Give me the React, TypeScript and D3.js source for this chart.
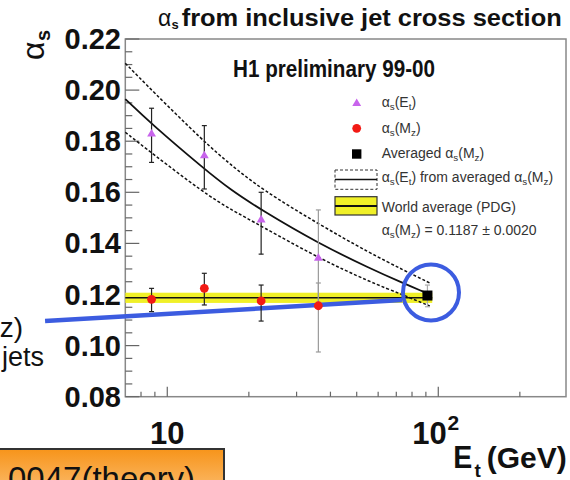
import React from "react";
import * as d3 from "d3";

// ---------- data ----------
const triE = [8.75, 13.7, 22.2, 36.1];
const triVal = [0.1828, 0.1743, 0.1492, 0.1342];
const triHi = [0.1929, 0.1861, 0.16, 0.1531];
const triLo = [0.1717, 0.1613, 0.1358, 0.1155];

const circVal = [0.1181, 0.1224, 0.1175, 0.1156];
const circHi = [0.1224, 0.1283, 0.1237, 0.1245];
const circLo = [0.1133, 0.1159, 0.1096, 0.0975];

const avgE = 91.2;
const avgVal = 0.1196;
const avgHi = 0.1237;
const avgLo = 0.1152;

const worldAvg = 0.1187;
const worldErr = 0.002;
const bandE = [7, 95];

const curveE = [7, 8.75, 13.7, 17, 22.2, 36.1, 56, 74.3, 88];
const curveMid = [0.1965, 0.1867, 0.1691, 0.1612, 0.1531, 0.14, 0.1302, 0.1244, 0.1211];
const dashE = [7, 8.75, 13.7, 17, 22.2, 36.1, 56, 74.3, 93];
const curveUp = [0.2105, 0.2, 0.1797, 0.1711, 0.1613, 0.1476, 0.1362, 0.1296, 0.1245];
const curveLow = [0.1835, 0.1754, 0.1597, 0.1535, 0.1468, 0.1343, 0.1249, 0.1198, 0.1155];

const yTickLabels = ["0.08", "0.10", "0.12", "0.14", "0.16", "0.18", "0.20", "0.22"];
const xMajor = [10, 100];

// annotation (data coordinates)
const blueLineE = [3.54, 73.5];
const blueLineV = [0.1096, 0.1178];
const blueCircleE = 94;
const blueCircleV = 0.1208;

const FONT = "'Liberation Sans', Arial, Helvetica, sans-serif";

export default function App() {
  const x = d3.scaleLog().domain([7, 296]).range([125.3, 566]);
  const y = d3.scaleLinear().domain([0.08, 0.22]).range([396.7, 39]);
  const [x0, x1] = x.range();
  const [yb, yt] = y.range();

  const yMinor = d3.range(0, 29).map((i) => +(0.08 + i * 0.005).toFixed(3));
  const xMinor = x.ticks().filter((t) => t > 7.01 && t < 296 && !xMajor.includes(t));

  const lineGen = d3
    .line<[number, number]>()
    .x((d) => x(d[0]))
    .y((d) => y(d[1]))
    .curve(d3.curveBasis);

  const mid = lineGen(curveE.map((e, i) => [e, curveMid[i]]))!;
  const up = lineGen(dashE.map((e, i) => [e, curveUp[i]]))!;
  const low = lineGen(dashE.map((e, i) => [e, curveLow[i]]))!;

  const tri = d3.symbol(d3.symbolTriangle, 34)()!;

  const errBar = (xe: number, hi: number, lo: number, color: string, key: string) => {
    const cx = x(xe);
    return (
      <g key={key} stroke={color} strokeWidth={1.2}>
        <line x1={cx} x2={cx} y1={y(hi)} y2={y(lo)} />
        <line x1={cx - 2.5} x2={cx + 2.5} y1={y(hi)} y2={y(hi)} />
        <line x1={cx - 2.5} x2={cx + 2.5} y1={y(lo)} y2={y(lo)} />
      </g>
    );
  };

  return (
    <svg
      width={570}
      height={480}
      style={{ position: "absolute", left: 0, top: 0, background: "#fff" }}
      fontFamily={FONT}
    >
      <defs>
        <linearGradient id="org" x1="0" y1="0" x2="0" y2="1">
          <stop offset="0" stopColor="#f7941a" />
          <stop offset="1" stopColor="#fcc27a" />
        </linearGradient>
      </defs>

      {/* title */}
      <text x={158} y={26} fontSize={23} fill="#111">
        α
      </text>
      <text x={171.5} y={29} fontSize={13} fontWeight="bold" fill="#111">
        s
      </text>
      <text
        x={181.7}
        y={26}
        fontSize={23}
        fontWeight="bold"
        fill="#111"
        textLength={380}
        lengthAdjust="spacingAndGlyphs"
      >
        from inclusive jet cross section
      </text>

      {/* y axis title */}
      <text transform="translate(44,60) rotate(-90)" fontSize={32} fill="#111">
        α
      </text>
      <text transform="translate(50,41) rotate(-90)" fontSize={20} fontWeight="bold" fill="#111">
        s
      </text>

      {/* frame */}
      <rect x={x0} y={yt} width={x1 - x0} height={yb - yt} fill="#fff" stroke="#888" strokeWidth={1.5} />

      {/* y ticks */}
      {yMinor.map((v, i) => (
        <line
          key={"ym" + i}
          x1={x0}
          x2={x0 + (i % 4 === 0 ? 14 : 7)}
          y1={y(v)}
          y2={y(v)}
          stroke="#666"
          strokeWidth={1.2}
        />
      ))}
      {yTickLabels.map((l) => (
        <text
          key={"yl" + l}
          x={121}
          y={y(+l) + 10}
          textAnchor="end"
          fontSize={29}
          fontWeight="bold"
          fill="#111"
        >
          {l}
        </text>
      ))}

      {/* x ticks */}
      {xMinor.map((t) => (
        <line key={"xm" + t} x1={x(t)} x2={x(t)} y1={yb} y2={yb - 5} stroke="#666" strokeWidth={1.2} />
      ))}
      {xMajor.map((t) => (
        <line key={"xM" + t} x1={x(t)} x2={x(t)} y1={yb} y2={yb - 10} stroke="#666" strokeWidth={1.2} />
      ))}
      <text x={x(10)} y={444} textAnchor="middle" fontSize={31} fontWeight="bold" fill="#111">
        10
      </text>
      <text x={x(100) + 8.4} y={444} textAnchor="end" fontSize={31} fontWeight="bold" fill="#111">
        10
      </text>
      <text x={447.5} y={430} fontSize={21} fontWeight="bold" fill="#111">
        2
      </text>

      {/* x axis title */}
      <text x={453.3} y={468.3} fontSize={32} fontWeight="bold" fill="#111" textLength={19} lengthAdjust="spacingAndGlyphs">
        E
      </text>
      <text x={474.5} y={477} fontSize={19} fontWeight="bold" fill="#111">
        t
      </text>
      <text x={486.7} y={468} fontSize={30} fontWeight="bold" fill="#111">
        (GeV)
      </text>

      {/* H1 label */}
      <text
        x={233}
        y={76.7}
        fontSize={23}
        fontWeight="bold"
        fill="#111"
        textLength={202}
        lengthAdjust="spacingAndGlyphs"
      >
        H1 preliminary 99-00
      </text>

      {/* world average band */}
      <rect
        x={x(bandE[0])}
        y={y(worldAvg + worldErr)}
        width={x(bandE[1]) - x(bandE[0])}
        height={y(worldAvg - worldErr) - y(worldAvg + worldErr)}
        fill="#f0f028"
      />
      <line x1={x(bandE[0])} x2={x(bandE[1])} y1={y(worldAvg)} y2={y(worldAvg)} stroke="#111" strokeWidth={1.5} />

      {/* curves */}
      <path d={mid} fill="none" stroke="#111" strokeWidth={1.8} />
      <path d={up} fill="none" stroke="#111" strokeWidth={1.5} strokeDasharray="3 2" />
      <path d={low} fill="none" stroke="#111" strokeWidth={1.5} strokeDasharray="3 2" />

      {/* blue annotation */}
      <line
        x1={x(blueLineE[0])}
        x2={x(blueLineE[1])}
        y1={y(blueLineV[0])}
        y2={y(blueLineV[1])}
        stroke="#3c5ce0"
        strokeWidth={4.5}
      />
      <circle cx={x(blueCircleE)} cy={y(blueCircleV)} r={28} fill="none" stroke="#3c5ce0" strokeWidth={4} />

      {/* error bars */}
      {triE.map((e, i) => errBar(e, triHi[i], triLo[i], i === 3 ? "#999" : "#222", "te" + i))}
      {triE.map((e, i) => errBar(e, circHi[i], circLo[i], i === 3 ? "#999" : "#222", "ce" + i))}
      {errBar(avgE, avgHi, avgLo, "#aaa", "ae")}

      {/* markers */}
      {triE.map((e, i) => (
        <path key={"tm" + i} d={tri} transform={`translate(${x(e)},${y(triVal[i])})`} fill="#c864ec" />
      ))}
      {triE.map((e, i) => (
        <circle key={"cm" + i} cx={x(e)} cy={y(circVal[i])} r={4.4} fill="#f21a14" />
      ))}
      <rect x={x(avgE) - 5} y={y(avgVal) - 5} width={10} height={10} fill="#000" />

      {/* legend */}
      <g fontSize={14} fill="#333">
        <path d={tri} transform="translate(356.7,103.5)" fill="#c864ec" />
        <text x={381.7} y={107}>
          α<tspan fontSize="70%" dy={3}>s</tspan>
          <tspan dy={-3}>(E</tspan>
          <tspan fontSize="70%" dy={3}>t</tspan>
          <tspan dy={-3}>)</tspan>
        </text>

        <circle cx={356.7} cy={128.3} r={4.4} fill="#f21a14" />
        <text x={381.7} y={133}>
          α<tspan fontSize="70%" dy={3}>s</tspan>
          <tspan dy={-3}>(M</tspan>
          <tspan fontSize="70%" dy={3}>z</tspan>
          <tspan dy={-3}>)</tspan>
        </text>

        <rect x={352} y={149.3} width={9.4} height={9.4} fill="#000" />
        <text x={381.7} y={157.5}>
          Averaged α<tspan fontSize="70%" dy={3}>s</tspan>
          <tspan dy={-3}>(M</tspan>
          <tspan fontSize="70%" dy={3}>z</tspan>
          <tspan dy={-3}>)</tspan>
        </text>

        <rect x={335} y={170} width={42} height={19.3} fill="none" stroke="#333" strokeWidth={1} strokeDasharray="3 2" />
        <line x1={335} x2={377} y1={179.5} y2={179.5} stroke="#111" strokeWidth={1.5} />
        <text x={381.7} y={182}>
          α<tspan fontSize="70%" dy={3}>s</tspan>
          <tspan dy={-3}>(E</tspan>
          <tspan fontSize="70%" dy={3}>t</tspan>
          <tspan dy={-3}>) from averaged α</tspan>
          <tspan fontSize="70%" dy={3}>s</tspan>
          <tspan dy={-3}>(M</tspan>
          <tspan fontSize="70%" dy={3}>z</tspan>
          <tspan dy={-3}>)</tspan>
        </text>

        <rect x={335} y={196.7} width={42} height={18.3} fill="#f0f028" stroke="#333" strokeWidth={1.2} />
        <line x1={335} x2={377} y1={206} y2={206} stroke="#111" strokeWidth={1.8} />
        <text x={381.7} y={212}>World average (PDG)</text>

        <text x={381.7} y={235}>
          α<tspan fontSize="70%" dy={3}>s</tspan>
          <tspan dy={-3}>(M</tspan>
          <tspan fontSize="70%" dy={3}>z</tspan>
          <tspan dy={-3}>) = 0.1187 ± 0.0020</tspan>
        </text>
      </g>

      {/* slide fragments */}
      <text x={23} y={337} textAnchor="end" fontSize={28} fill="#111">
        z)
      </text>
      <text x={44} y={366} textAnchor="end" fontSize={27} fill="#111">
        jets
      </text>
      <rect x={-2} y={449} width={226} height={50} fill="url(#org)" stroke="#333" strokeWidth={2} />
      <text x={8} y={490} fontSize={33} fill="#111">
        0047(theory)
      </text>
    </svg>
  );
}
